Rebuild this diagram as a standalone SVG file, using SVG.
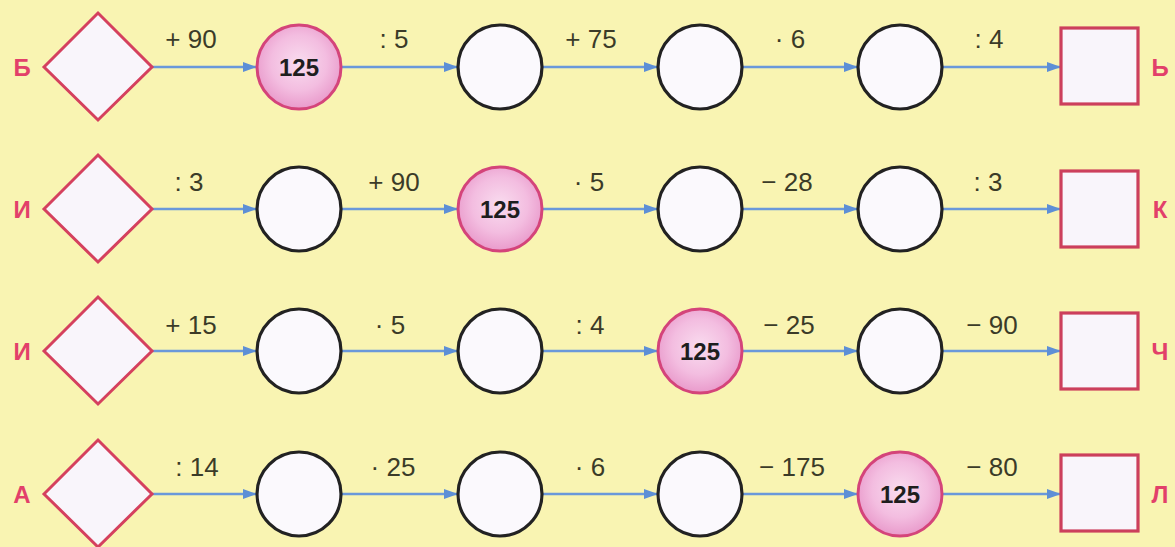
<svg xmlns="http://www.w3.org/2000/svg" width="1175" height="547" viewBox="0 0 1175 547">
<defs>
<radialGradient id="pg" cx="50%" cy="45%" r="55%">
<stop offset="0" stop-color="#f9dcef"/>
<stop offset="0.6" stop-color="#f3bde0"/>
<stop offset="1" stop-color="#e99acb"/>
</radialGradient>
<marker id="ah" viewBox="0 0 14 10" refX="13" refY="5" markerWidth="14" markerHeight="10" markerUnits="userSpaceOnUse" orient="auto">
<path d="M0,0 L14,5 L0,10 Z" fill="#5d8fd6"/>
</marker>
<g id="dia"><path d="M-54,0 L0,-54 L54,0 L0,53 Z" class="dm"/></g>
</defs>
<style>
.bg{fill:#f9f4b2}
.dm{fill:#f9f5fb;stroke:#d5405e;stroke-width:3;stroke-linejoin:miter}
.wc{fill:#fbf9fd;stroke:#222;stroke-width:3.2}
.pc{fill:url(#pg);stroke:#d4447a;stroke-width:3}
.sq{fill:#f9f5fb;stroke:#cc3f5c;stroke-width:3.2}
.ar{stroke:#6a98da;stroke-width:2.5;fill:none;marker-end:url(#ah)}
.op{font-family:"Liberation Sans","DejaVu Sans",sans-serif;font-size:26px;fill:#3b3b28;text-anchor:middle}
.num{font-family:"Liberation Sans","DejaVu Sans",sans-serif;font-size:24px;font-weight:bold;fill:#1e1e1e;text-anchor:middle}
.lt{font-family:"Liberation Sans","DejaVu Sans",sans-serif;font-size:24px;font-weight:bold;fill:#e2406a;text-anchor:middle}
</style>
<rect class="bg" x="0" y="0" width="1175" height="547"/>

<g id="connectors">
<path class="ar" d="M152,67 H256"/><path class="ar" d="M341,67 H457"/><path class="ar" d="M542,67 H657"/><path class="ar" d="M742,67 H857"/><path class="ar" d="M942,67 H1060"/>
<path class="ar" d="M152,209 H256"/><path class="ar" d="M341,209 H457"/><path class="ar" d="M542,209 H657"/><path class="ar" d="M742,209 H857"/><path class="ar" d="M942,209 H1060"/>
<path class="ar" d="M152,351 H256"/><path class="ar" d="M341,351 H457"/><path class="ar" d="M542,351 H657"/><path class="ar" d="M742,351 H857"/><path class="ar" d="M942,351 H1060"/>
<path class="ar" d="M152,494 H256"/><path class="ar" d="M341,494 H457"/><path class="ar" d="M542,494 H657"/><path class="ar" d="M742,494 H857"/><path class="ar" d="M942,494 H1060"/>
</g>

<g id="ops">
<text class="op" x="191" y="48">+ 90</text><text class="op" x="394" y="48">: 5</text><text class="op" x="591" y="48">+ 75</text><text class="op" x="790" y="48">· 6</text><text class="op" x="989" y="48">: 4</text>
<text class="op" x="189" y="191">: 3</text><text class="op" x="394" y="191">+ 90</text><text class="op" x="589" y="191">· 5</text><text class="op" x="787" y="191">− 28</text><text class="op" x="988" y="191">: 3</text>
<text class="op" x="191" y="334">+ 15</text><text class="op" x="390" y="334">· 5</text><text class="op" x="590" y="334">: 4</text><text class="op" x="789" y="334">− 25</text><text class="op" x="992" y="334">− 90</text>
<text class="op" x="197" y="476">: 14</text><text class="op" x="393" y="476">· 25</text><text class="op" x="590" y="476">· 6</text><text class="op" x="792" y="476">− 175</text><text class="op" x="992" y="476">− 80</text>
</g>

<g id="row1">
<g id="r1-start"><text class="lt" x="22" y="76">Б</text><use href="#dia" x="98" y="67"/></g>
<g id="r1-n1"><circle class="pc" cx="299" cy="67" r="42"/><text class="num" x="299" y="76">125</text></g>
<g id="r1-n2"><circle class="wc" cx="500" cy="67" r="42"/></g>
<g id="r1-n3"><circle class="wc" cx="700" cy="67" r="42"/></g>
<g id="r1-n4"><circle class="wc" cx="900" cy="67" r="42"/></g>
<g id="r1-end"><rect class="sq" x="1061" y="28" width="77" height="76"/><text class="lt" x="1160" y="76">Ь</text></g>
</g>

<g id="row2">
<g id="r2-start"><text class="lt" x="22" y="218">И</text><use href="#dia" x="98" y="209"/></g>
<g id="r2-n1"><circle class="wc" cx="299" cy="209" r="42"/></g>
<g id="r2-n2"><circle class="pc" cx="500" cy="209" r="42"/><text class="num" x="500" y="218">125</text></g>
<g id="r2-n3"><circle class="wc" cx="700" cy="209" r="42"/></g>
<g id="r2-n4"><circle class="wc" cx="900" cy="209" r="42"/></g>
<g id="r2-end"><rect class="sq" x="1061" y="171" width="77" height="76"/><text class="lt" x="1160" y="218">К</text></g>
</g>

<g id="row3">
<g id="r3-start"><text class="lt" x="22" y="360">И</text><use href="#dia" x="98" y="351"/></g>
<g id="r3-n1"><circle class="wc" cx="299" cy="351" r="42"/></g>
<g id="r3-n2"><circle class="wc" cx="500" cy="351" r="42"/></g>
<g id="r3-n3"><circle class="pc" cx="700" cy="351" r="42"/><text class="num" x="700" y="360">125</text></g>
<g id="r3-n4"><circle class="wc" cx="900" cy="351" r="42"/></g>
<g id="r3-end"><rect class="sq" x="1061" y="313" width="77" height="76"/><text class="lt" x="1160" y="360">Ч</text></g>
</g>

<g id="row4">
<g id="r4-start"><text class="lt" x="22" y="503">А</text><use href="#dia" x="98" y="494"/></g>
<g id="r4-n1"><circle class="wc" cx="299" cy="494" r="42"/></g>
<g id="r4-n2"><circle class="wc" cx="500" cy="494" r="42"/></g>
<g id="r4-n3"><circle class="wc" cx="700" cy="494" r="42"/></g>
<g id="r4-n4"><circle class="pc" cx="900" cy="494" r="42"/><text class="num" x="900" y="503">125</text></g>
<g id="r4-end"><rect class="sq" x="1061" y="455" width="77" height="76"/><text class="lt" x="1160" y="503">Л</text></g>
</g>
</svg>
